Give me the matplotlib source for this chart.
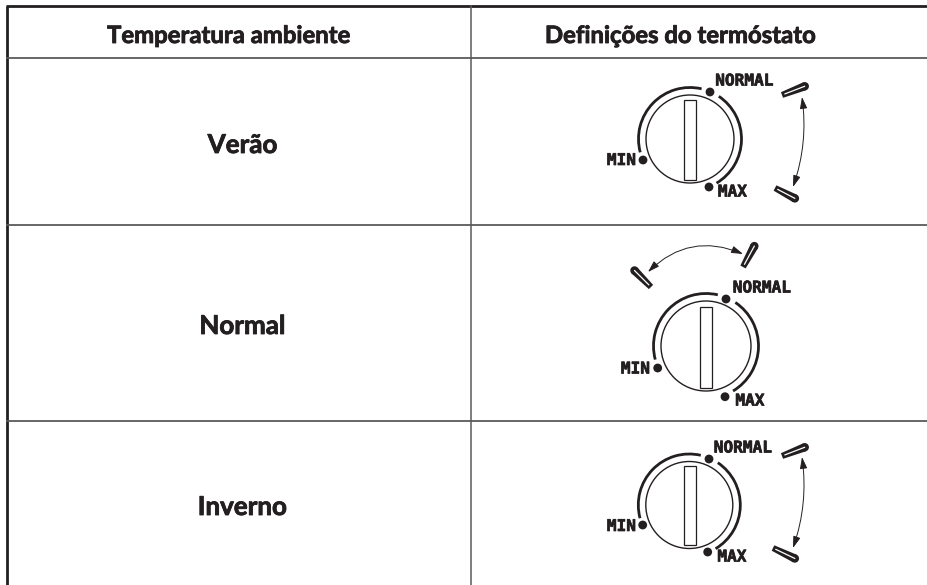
import numpy as np
import matplotlib
matplotlib.use("Agg")
import matplotlib.pyplot as plt
import matplotlib.patheffects as pe
from matplotlib.patches import Rectangle, Circle, Arc, FancyArrowPatch, Polygon

W, H = 928, 585
headers = ["Temperatura ambiente", "Definições do termóstato"]
rows = ["Verão", "Normal", "Inverno"]
row_rules = [58, 224.5, 421]
row_baselines = [153, 334, 515]
dials = [
    dict(c=(690, 139), r=44, rect=(684.3, 99.5, 12, 80),
         dots=[(710, 92), (643, 160), (709, 187)],
         txt=[(744.5, 81), (621.5, 160.5), (732.5, 192)],
         handles=[((782, 95), (808, 85)), ((775, 188), (798, 200))],
         arrow=((802, 97), (793, 187), -0.12)),
    dict(c=(706, 346), r=45, rect=(700.3, 306.7, 12, 81.5),
         dots=[(726, 299), (657.7, 368), (725, 396.7)],
         txt=[(762, 288), (635.5, 369), (750, 401)],
         handles=[((743, 267), (756, 243)), ((651, 287), (632, 268))],
         arrow=((743, 254), (648, 272), 0.33)),
    dict(c=(689.3, 505), r=43.5, rect=(683.7, 466, 12, 78.5),
         dots=[(709, 459), (642.7, 525), (707.7, 552)],
         txt=[(743, 448), (621.5, 526.5), (732, 557)],
         handles=[((782, 456), (808, 446)), ((773, 548), (798, 560))],
         arrow=((802, 457), (793, 548), -0.12)),
]
dial_words = ["NORMAL", "MIN", "MAX"]

fig = plt.figure(figsize=(W / 100, H / 100), dpi=100)
ax = fig.add_axes([0, 0, 1, 1])
ax.set_xlim(0, W)
ax.set_ylim(H, 0)
ax.axis("off")

ink = "#231f20"
rule = "#5a5a5a"
left, top, mid = 7.5, 5.5, 471
ax.plot([left, left], [top, H], color=ink, lw=2.0, solid_capstyle="butt")
ax.plot([left - 1.5, W], [top, top], color=ink, lw=2.0, solid_capstyle="butt")
ax.plot([mid, mid], [top, H], color=rule, lw=1.1)
for y in row_rules:
    ax.plot([left, W], [y, y], color=rule, lw=1.3)

font = dict(family="Lato", fontweight="bold", color=ink, ha="center", va="baseline",
            path_effects=[pe.withStroke(linewidth=0.6, foreground=ink)])
ax.text(229, 43, headers[0], fontsize=17.2, **font)
ax.text(680, 43, headers[1], fontsize=17.2, **font)
for name, y in zip(rows, row_baselines):
    ax.text(242.5, y, name, fontsize=18.7, **font)


def handle(p0, p1):
    """Tapered slotted lever: narrow at p0, rounded and wide at p1."""
    p0, p1 = np.array(p0, float), np.array(p1, float)
    u = (p1 - p0) / np.linalg.norm(p1 - p0)
    n = np.array([-u[1], u[0]])
    end = p1 - u * 3.5
    ax.add_patch(Polygon([p0 + n * 3.0, end + n * 4.2, end - n * 4.2, p0 - n * 3.0],
                         fc=ink, ec="none"))
    ax.add_patch(Circle(end, 4.2, fc=ink, ec="none"))
    ax.plot(*zip(p0 + u * 3, end), color="white", lw=0.9, solid_capstyle="round")


for d in dials:
    cx, cy = d["c"]
    ax.add_patch(Circle((cx, cy), d["r"], fill=False, ec=ink, lw=1.0))
    R = d["r"] + 7.5
    # y axis is inverted: angles run clockwise on screen
    ax.add_patch(Arc((cx, cy), 2 * R, 2 * R, theta1=165, theta2=283, ec=ink, lw=2.0))
    ax.add_patch(Arc((cx, cy), 2 * R, 2 * R, theta1=-56, theta2=59, ec=ink, lw=2.0))
    x0, y0, w, h = d["rect"]
    ax.add_patch(Rectangle((x0, y0), w, h, fill=False, ec=ink, lw=0.9))
    for (x, y), word, (tx, ty) in zip(d["dots"], dial_words, d["txt"]):
        ax.add_patch(Circle((x, y), 4.4, fc=ink, ec="none"))
        t = ax.text(tx, ty, word, fontsize=11.6, family="DejaVu Sans Mono", fontweight="bold",
                    color=ink, ha="center", va="center")
        t.set_path_effects([pe.withStroke(linewidth=0.5, foreground=ink)])
    for p0, p1 in d["handles"]:
        handle(p0, p1)
    p0, p1, rad = d["arrow"]
    ax.add_patch(FancyArrowPatch(p0, p1, connectionstyle=f"arc3,rad={rad}",
                                 arrowstyle="<|-|>,head_length=7,head_width=2.2",
                                 color=ink, lw=0.7, shrinkA=0, shrinkB=0))

fig.savefig("out.png", dpi=100, facecolor="white")
